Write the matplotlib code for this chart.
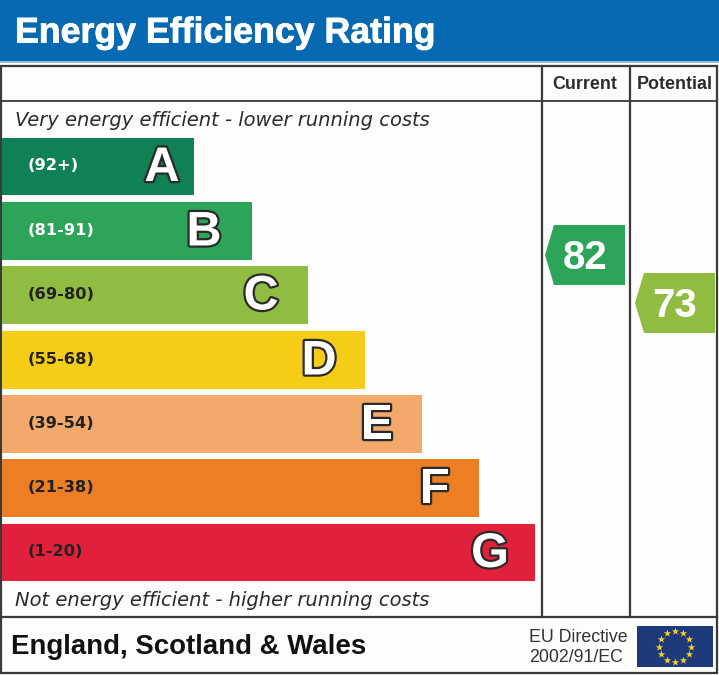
import numpy as np
import matplotlib
matplotlib.use("Agg")
import matplotlib.pyplot as plt
from matplotlib.patches import Rectangle, Polygon
import matplotlib.patheffects as pe

title = "Energy Efficiency Rating"
letters = ["A", "B", "C", "D", "E", "F", "G"]
ranges = ["(92+)", "(81-91)", "(69-80)", "(55-68)", "(39-54)", "(21-38)", "(1-20)"]
bar_right = [194, 252, 308, 365, 422, 479, 535]
bar_top = [138, 202, 266, 331, 395, 459, 524]
bar_bottom = [195, 260, 324, 389, 453, 517, 581]
letter_inset = [32, 48, 47, 46, 45, 44, 45]
colors = ["#0f8155", "#2ca55a", "#8fbc41", "#f6cd16", "#f3a96b", "#ec7f25", "#e1203b"]
col_labels = ["Current", "Potential"]
scores = [82, 73]
score_colors = ["#2ca55a", "#8fbc41"]
score_left = [545, 635]
score_top = [225, 273]

W, H = 719, 675
FONT = "Liberation Sans"
WIDE = "DejaVu Sans"
fig = plt.figure(figsize=(W / 100, H / 100), dpi=100, facecolor="#fdfdfb")
ax = fig.add_axes([0, 0, 1, 1])
ax.set_xlim(0, W)
ax.set_ylim(H, 0)
ax.axis("off")

# header band
ax.add_patch(Rectangle((0, 0), W, 61, fc="#0769b2", ec="none"))
ax.plot([0, W], [62, 62], color="#7fb0d8", lw=1.2)
ax.text(15, 33, title, color="white", fontsize=25.7, fontweight="bold", family=FONT,
        va="center", ha="left",
        path_effects=[pe.withStroke(linewidth=0.6, foreground="white")])

# frame
line = "#3a3a3a"
ax.add_patch(Rectangle((1, 66), 716, 607, fc="none", ec=line, lw=1.6))
ax.plot([1, 717], [101, 101], color=line, lw=1.3)
ax.plot([1, 717], [617, 617], color=line, lw=1.6)
ax.plot([542, 542], [66, 617], color=line, lw=1.6)
ax.plot([630, 630], [66, 617], color=line, lw=1.6)
for cx, lab in zip([585, 674.5], col_labels):
    ax.text(cx, 84.5, lab, fontsize=12.9, fontweight="bold", family=FONT, color="#2b2b2b",
            ha="center", va="center")

ax.text(15, 120, "Very energy efficient - lower running costs", fontsize=14, style="italic",
        family=WIDE, color="#2b2b2b", va="center")
ax.text(15, 600, "Not energy efficient - higher running costs", fontsize=14, style="italic",
        family=WIDE, color="#2b2b2b", va="center")

# rating bars
for i, (let, rng, r, t, b, c, ins) in enumerate(zip(letters, ranges, bar_right, bar_top,
                                                     bar_bottom, colors, letter_inset)):
    ax.add_patch(Rectangle((2, t), r - 2, b - t, fc=c, ec="none"))
    ax.text(28, (t + b) / 2 - 0.5, rng, fontsize=11.7, fontweight="bold", family=WIDE,
            color="white" if i < 2 else "#222222", va="center", ha="left")
    ax.text(r - ins, (t + b) / 2 + 2, let, fontsize=35, fontweight="bold", family=FONT,
            color="white", va="center", ha="center",
            path_effects=[pe.withStroke(linewidth=3.2, foreground="#2a2a2a")])

# score arrows
for s, c, l, t in zip(scores, score_colors, score_left, score_top):
    ax.add_patch(Polygon([(l, t + 30), (l + 9, t), (l + 80, t), (l + 80, t + 60), (l + 9, t + 60)],
                         closed=True, fc=c, ec="none"))
    ax.text(l + 40, t + 33, str(s), fontsize=29, fontweight="bold", family=FONT, color="white",
            ha="center", va="center")

# footer
ax.text(11, 647, "England, Scotland & Wales", fontsize=19.9, fontweight="bold", family=FONT,
        color="#111111", va="center")
ax.text(529, 637.5, "EU Directive", fontsize=12.8, family=FONT, color="#333333", va="center")
ax.text(529, 657.5, "2002/91/EC", fontsize=12.8, family=FONT, color="#333333", va="center")

# EU flag
ax.add_patch(Rectangle((637, 626), 76, 41, fc="#1f3a7a", ec="none"))
ang = np.deg2rad(np.arange(0, 360, 30))
ax.scatter(675 + 16 * np.cos(ang), 646.5 + 15.5 * np.sin(ang), marker="*", s=32, c="#f5d327", linewidths=0)

fig.savefig("out.png", dpi=100, facecolor=fig.get_facecolor())
